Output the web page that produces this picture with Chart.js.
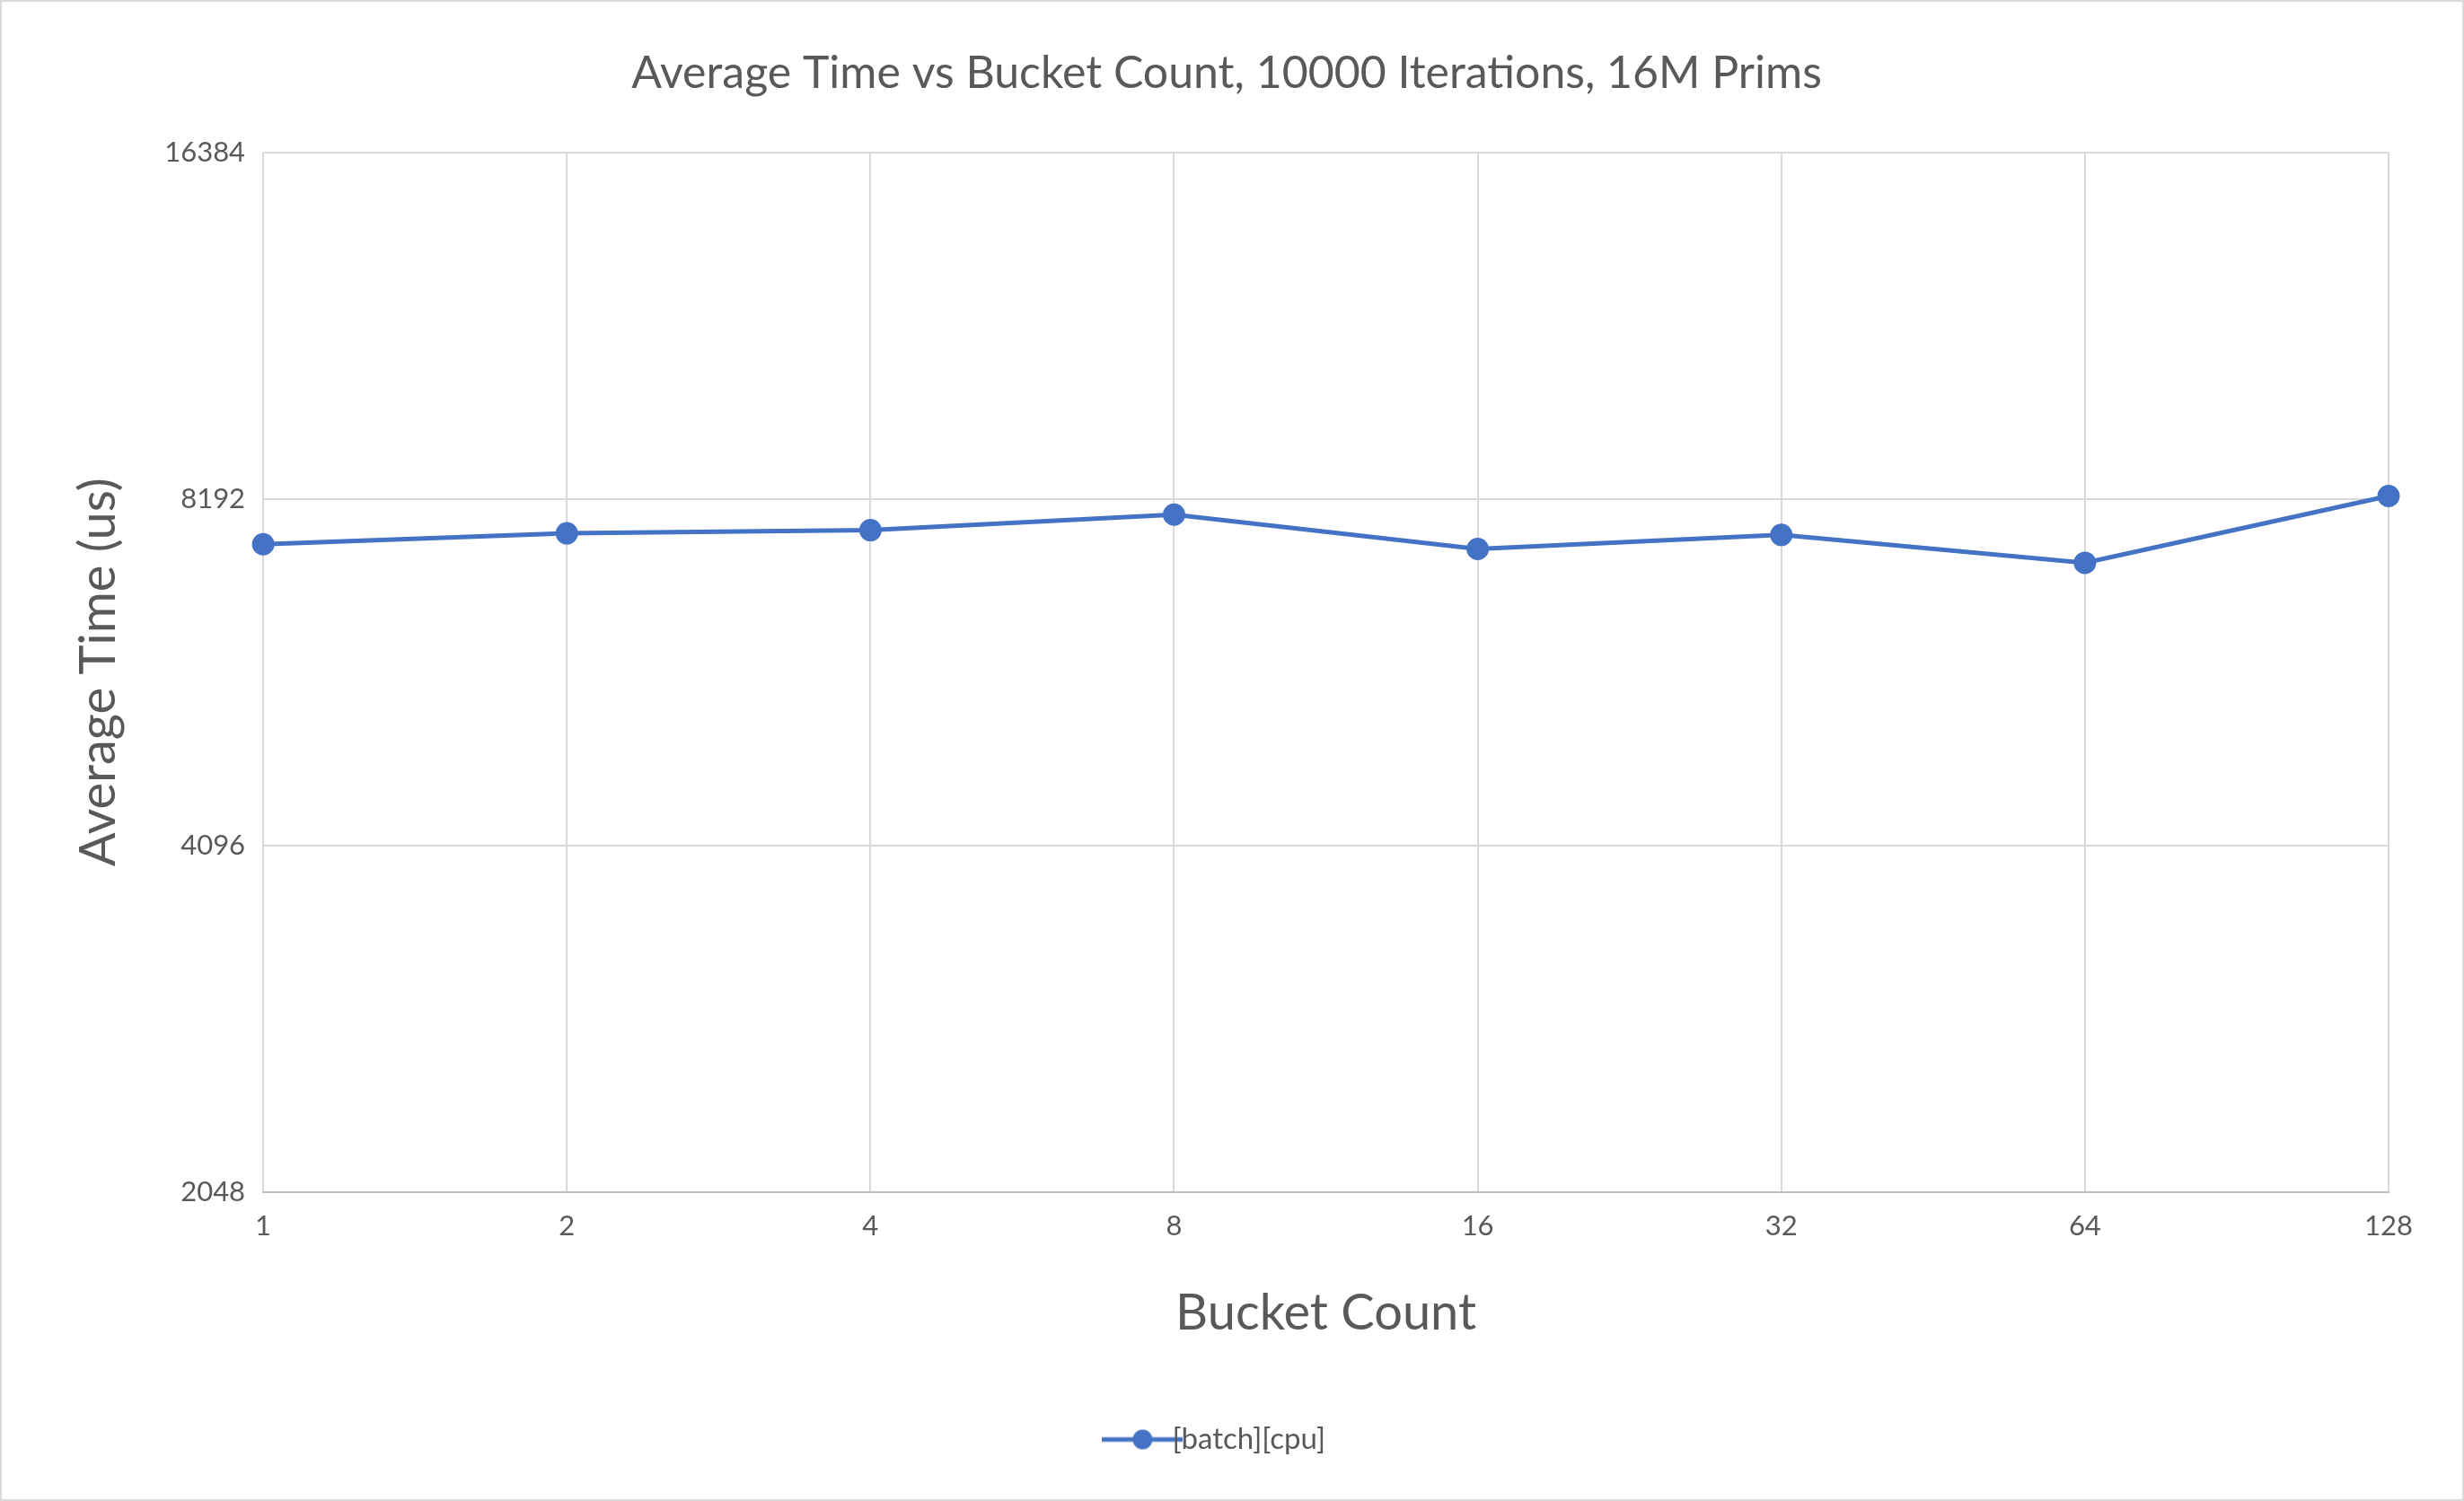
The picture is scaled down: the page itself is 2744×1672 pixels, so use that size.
<!DOCTYPE html>
<html><head><meta charset="utf-8">
<script src="https://cdn.jsdelivr.net/npm/chart.js@4"></script>
<style>html,body{margin:0;padding:0;background:#fff}#w{width:2744px;height:1672px;box-sizing:border-box;border:2px solid #d9d9d9}</style>
</head><body><div id="w"><canvas id="c"></canvas></div>
<script>
const categories = ["1","2","4","8","16","32","64","128"];
const batchCpu = [7483, 7649, 7697, 7940, 7413, 7624, 7210, 8242];
const yTicks = [2048, 4096, 8192, 16384];
const F = "Lato, 'Open Sans', sans-serif";
const legIcon = document.createElement('canvas');
legIcon.width = 90; legIcon.height = 24;
(function(){const g=legIcon.getContext('2d');g.strokeStyle='#4472C4';g.lineWidth=5;g.beginPath();g.moveTo(0,12);g.lineTo(90,12);g.stroke();g.fillStyle='#4472C4';g.beginPath();g.arc(45,12,11,0,Math.PI*2);g.fill();})();
new Chart(document.getElementById('c'), {
  type: 'line',
  data: { labels: categories, datasets: [{
    label: '[batch][cpu]', data: batchCpu, borderColor: '#4472C4', backgroundColor: '#4472C4',
    borderWidth: 5, pointRadius: 10, pointHoverRadius: 10, tension: 0 }] },
  options: {
    responsive: true, maintainAspectRatio: false, animation: false,
    layout: { padding: { left: 70, right: 82, top: 40, bottom: 40 } },
    plugins: {
      title: { display: true, text: 'Average Time vs Bucket Count, 10000 Iterations, 16M Prims',
        color: '#595959', font: { family: F, size: 50, weight: 'normal' }, padding: { top: 10, bottom: 58 } },
      legend: { position: 'bottom', labels: { color: '#595959', font: { family: F, size: 33 },
        usePointStyle: true, padding: 30,
        generateLabels: ch => [{ text: '[batch][cpu]', pointStyle: legIcon, fontColor: '#595959', datasetIndex: 0, hidden: false, lineWidth: 0 }] } }
    },
    scales: {
      x: { type: 'category', offset: false,
        grid: { color: '#d9d9d9', lineWidth: 2, drawTicks: false }, border: { color: '#bfbfbf', width: 2 },
        ticks: { color: '#595959', font: { family: F, size: 31 }, padding: 20 },
        title: { display: true, text: 'Bucket Count', color: '#595959', font: { family: F, size: 56 }, padding: { top: 25, bottom: 60 } } },
      y: { type: 'logarithmic', min: 2048, max: 16384,
        afterBuildTicks: s => { s.ticks = yTicks.map(v => ({ value: v })); },
        grid: { color: '#d9d9d9', lineWidth: 2, drawTicks: false }, border: { display: false },
        ticks: { color: '#595959', font: { family: F, size: 31 }, padding: 20, callback: v => String(v) },
        title: { display: true, text: 'Average Time (us)', color: '#595959', font: { family: F, size: 56 }, padding: { bottom: 20 } } }
    }
  }
});
</script></body></html>
